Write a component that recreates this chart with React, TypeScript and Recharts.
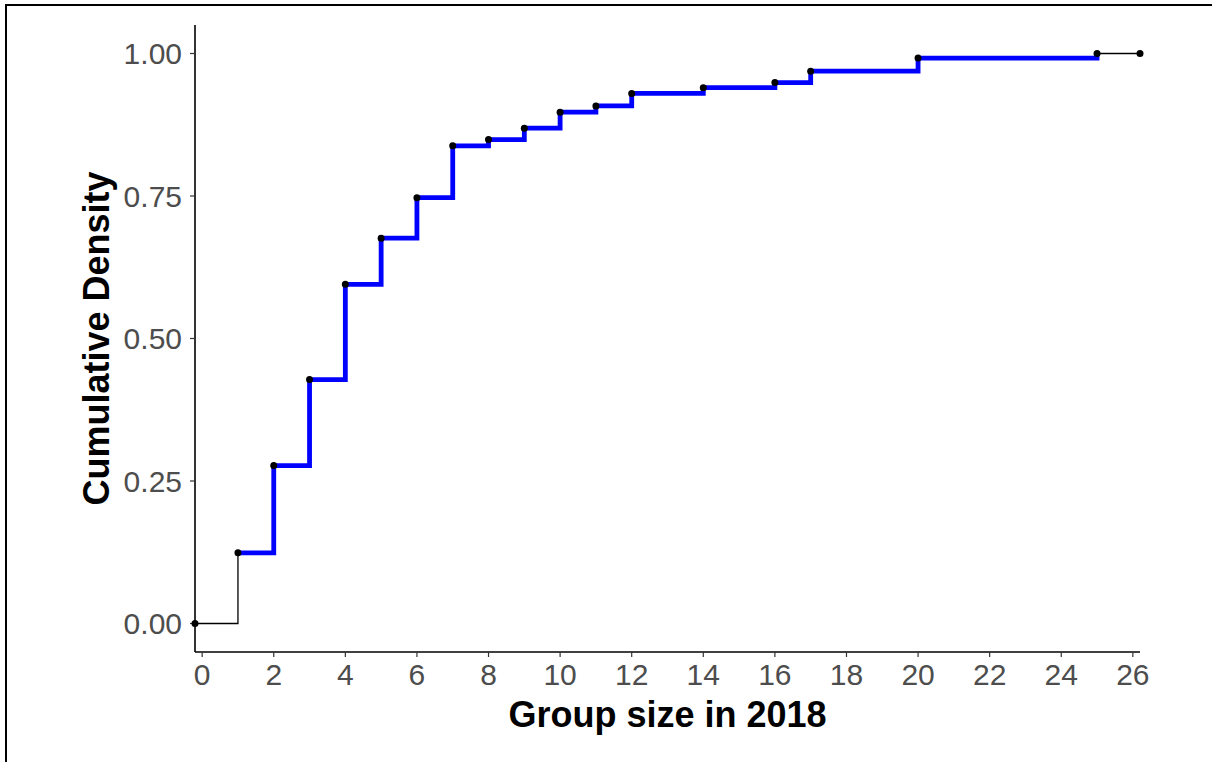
import React from 'react';
import { ComposedChart, Line, XAxis, YAxis } from 'recharts';

// ECDF of group sizes (2018): observed sizes and the cumulative share at each
const groupSizes = [1, 2, 3, 4, 5, 6, 7, 8, 9, 10, 11, 12, 14, 16, 17, 20, 25];
const cumDensity = [
  0.124, 0.277, 0.428, 0.595, 0.676, 0.747, 0.838, 0.849, 0.869,
  0.897, 0.908, 0.93, 0.94, 0.949, 0.969, 0.992, 1.0,
];

const xDomain: [number, number] = [-0.2, 26.2];
const yDomain: [number, number] = [-0.05, 1.05];
const xTicks = [0, 2, 4, 6, 8, 10, 12, 14, 16, 18, 20, 22, 24, 26];
const yTicks = [0, 0.25, 0.5, 0.75, 1];

// padded rows at the panel edges carry the step out to -Inf / +Inf
const rows = [
  { x: xDomain[0], all: 0, inner: null as number | null },
  ...groupSizes.map((g, i) => ({ x: g, all: cumDensity[i], inner: cumDensity[i] })),
  { x: xDomain[1], all: 1, inner: null as number | null },
];

const FONT = '"Liberation Sans", Arial, sans-serif';
const tickStyle = { fontSize: 30, fill: '#4D4D4D', fontFamily: FONT };

const YTitle = (props: any) => {
  const vb = props.viewBox || {};
  const x = vb.x - 6;
  const y = vb.y + vb.height / 2;
  return (
    <text
      x={x}
      y={y}
      transform={`rotate(-90 ${x} ${y})`}
      textAnchor="middle"
      fontFamily={FONT}
      fontWeight="bold"
      fontSize={36}
      fill="#000"
    >
      Cumulative Density
    </text>
  );
};

const App: React.FC = () => {
  return (
    <div
      style={{
        position: 'absolute',
        left: 0,
        top: 0,
        width: 1212,
        height: 762,
        background: '#fff',
        overflow: 'hidden',
      }}
    >
      <div
        style={{
          position: 'absolute',
          left: 5,
          top: 4,
          width: 1300,
          height: 900,
          borderLeft: '2px solid #000',
          borderTop: '2px solid #000',
        }}
      />
      <div style={{ position: 'absolute', left: 0, top: 0 }}>
        <ComposedChart
          width={1212}
          height={762}
          data={rows}
          margin={{ top: 25, right: 72, bottom: 30, left: 115 }}
        >
          <XAxis
            dataKey="x"
            type="number"
            domain={xDomain}
            ticks={xTicks}
            interval={0}
            height={80}
            tick={tickStyle}
            tickSize={5}
            tickMargin={7}
            axisLine={{ stroke: '#000', strokeWidth: 1.6 }}
            tickLine={{ stroke: '#333', strokeWidth: 1.2 }}
            label={{
              value: 'Group size in 2018',
              position: 'insideBottom',
              offset: 5,
              style: { fontSize: 36, fontWeight: 'bold', fill: '#000', fontFamily: FONT },
            }}
          />
          <YAxis
            type="number"
            domain={yDomain}
            ticks={yTicks}
            interval={0}
            width={80}
            tick={tickStyle}
            tickSize={5}
            tickMargin={8}
            tickFormatter={(v: number) => v.toFixed(2)}
            axisLine={{ stroke: '#000', strokeWidth: 1.6 }}
            tickLine={{ stroke: '#333', strokeWidth: 1.2 }}
            label={<YTitle />}
          />
          {/* thin step through the whole ECDF, including the padded ends */}
          <Line
            dataKey="all"
            type="stepAfter"
            stroke="#000"
            strokeWidth={1.3}
            dot={false}
            activeDot={false}
            isAnimationActive={false}
          />
          {/* thick blue step over the observed range */}
          <Line
            dataKey="inner"
            type="stepAfter"
            stroke="#0000FF"
            strokeWidth={4.8}
            strokeLinejoin="miter"
            dot={false}
            activeDot={false}
            isAnimationActive={false}
          />
          {/* points at every step */}
          <Line
            dataKey="all"
            stroke="none"
            dot={{ r: 3.5, fill: '#000', stroke: 'none' }}
            activeDot={false}
            isAnimationActive={false}
          />
        </ComposedChart>
      </div>
    </div>
  );
};

export default App;
